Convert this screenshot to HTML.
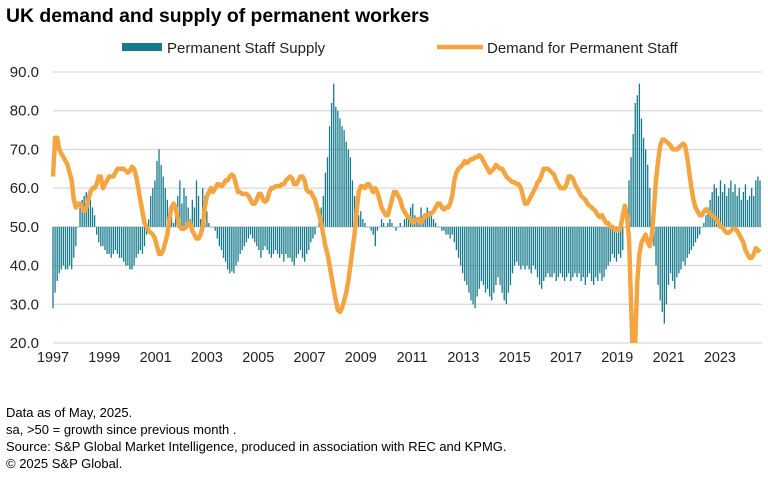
<!DOCTYPE html>
<html><head><meta charset="utf-8">
<style>
body{margin:0;background:#fff;width:768px;height:480px;overflow:hidden;font-family:"Liberation Sans",Arial,sans-serif;}
svg{position:absolute;left:0;top:0;}
</style></head>
<body>
<svg id="chart" width="768" height="480" xmlns="http://www.w3.org/2000/svg">
<text x="6" y="22" font-size="19.4" font-weight="bold" fill="#000">UK demand and supply of permanent workers</text>
<g>
<rect x="122" y="43" width="40" height="8" fill="#157a8c"/>
<text x="167" y="53" font-size="15" fill="#222">Permanent Staff Supply</text>
<line x1="437" y1="47" x2="483" y2="47" stroke="#f2a541" stroke-width="4.5"/>
<text x="487" y="53" font-size="15" fill="#222">Demand for Permanent Staff</text>
</g>
<g id="grid"></g><g id="bars"></g><g id="line"></g><g id="axes"></g>
<g font-size="13" fill="#000">
<text x="6" y="417">Data as of May, 2025.</text>
<text x="6" y="434">sa, &gt;50 = growth since previous month .</text>
<text x="6" y="451">Source: S&amp;P Global Market Intelligence, produced in association with REC and KPMG.</text>
<text x="6" y="468">© 2025 S&amp;P Global.</text>
</g>
</svg>
<script>
const yTicks=[20,30,40,50,60,70,80,90];
const xLabels=["1997","1999","2001","2003","2005","2007","2009","2011","2013","2015","2017","2019","2021","2023"];
const demand=[
63,73,73,70,69,68,67,66,64,62,57,55,
56,56,55,54,55,57,59,60,60,61,63,63,
60,61,62,63,63,63,64,65,65,65,65,64.5,
64,64.5,65.5,65,63,60,57,54,51,50,49,48.5,
48,47,45,43,43,44,46,48,52,55,56,55,
52,50,49.5,49.5,50,51,51,49,48,47,47,48,
50,55,58,59,60,59,60,61,61,60.5,61,62,
62,63,63.5,63,61,59,59,58.5,58.5,58.5,58,57,
56,56,57,58.5,58.5,57,56.5,57,59,60,60,60.5,
60.5,60.5,61,61,62,62.5,63,62.5,61,61,62,63,
63,62,59.5,59,59,58,57,55,53,51,48,45,
43,40,37,34,31,28.5,28,29,31,33,36,40,
44,48,54,59,60.5,60.5,60,61,61,60,59,60,
59,57,55,54,53,53,55,57,59,59,58,57,
55,54,53,52.5,52,51,51.5,52,52,51,52,53,
53,53,53.5,54,55,56,56,55,54.5,55,55,56,
58,62,64,65,65.5,66,67,66.5,67,67.5,67.5,68,
68,68.5,68,67,66,65,64,64.5,65,66,65.5,65,
65,64,63,62.5,62,61.5,61.5,61,61,60,58,56,
56,57,58,59,60,61.5,62,63.5,65,65,65,64.5,
64,63.5,62,61,60,60,60,61,63,63,62.5,61,
60,59,58,57.5,57,56,55.5,55,54.5,54,53,52.5,
53,52,51,51,50,50,49.5,49,49,50,53,55.5,
53,47,30,14,20,36,43,46,47,48,46,45,
48,55,62,67,71,72.5,72.5,72,71.5,71,70,70,
70,70.5,71,71.5,71,68,64,60,57,55,54,53,
53,54,54.5,54,53.5,53,52.5,52,51,50,50,49,
48.5,48.5,49,49.5,49.5,49,48,47,46,44,43,42,
42,43,44.5,44,43.5];
const supply=[
29,33,36,38,39,40,39,39,40,39,42,45,
50,56,57,58,59,57,57,55,53,48,46,45,
45,44,43,43,42,43,44,43,42,42,41,40,
40,39,39,40,42,43,44,43,45,48,52,58,
60,62,67,70,66,63,60,57,55,53,51,55,
58,62,56,60,58,55,52,57,55,62,58,52,
60,58,54,51,50,50,49,47,45,44,42,41,
39,38,38.5,38,40,41,43,44,45,46,47,48,
47,46,45,44,42,44,45,44,43,42,43,44,
43,42,43,41,43,42,42,41,40,42,43,44,
42,41,43,44,46,47,48,50,52,55,58,64,
68,76,82,87,81,80,78,76,75,72,70,68,
62,58,55,53,54,52,51,50,50,49,48,45,
49,50,52,51,50,51,52,51,50,49,50,51,
50,52,54,53,55,56,53,52,51,55,53,52,
55,54,53,52,51,50,50,49,49,48,48,47,
48,46,44,42,40,38,36,35,33,31,30,29,
32,34,36,35,33,34,32,31,33,35,37,35,
33,31,30,33,35,38,40,41,40,39,40,39,
40,39,38,40,39,37,35,34,36,37,38,37,
37,38,36,37,38,37,36,37,38,36,37,38,
37,38,36,37,35,37,38,36,35,37,36,38,
36,37,39,40,41,43,42,41,43,42,44,50,
55,62,68,74,82,84,87,78,73,70,66,60,
53,45,40,35,31,28,25,30,35,38,36,34,
37,38,39,41,40,42,43,44,45,46,47,48,
50,51,53,55,57,59,61,60,58,62,59,61,
58,60,62,59,61,58,60,57,59,61,57,58,
60,58,62,63,62];
const NS='http://www.w3.org/2000/svg';
const X0=53,X1=760,YT=72,YB=343;
const y=v=>YT+(90-v)*(YB-YT)/70;
const x=i=>X0+i*(X1-X0)/(demand.length-1);
const labelX=i=>53+i*51.3;
function mk(tag,attrs,parent){const e=document.createElementNS(NS,tag);for(const k in attrs)e.setAttribute(k,attrs[k]);parent.appendChild(e);return e;}
const grid=document.getElementById('grid'),axes=document.getElementById('axes');
yTicks.forEach(t=>{
 const l=mk('line',{x1:X0,x2:X1+2,y1:y(t),y2:y(t),stroke:'#d9d9d9','stroke-width':1.3},grid);
 
 
 const tx=mk('text',{x:39,y:y(t)+5,'font-size':15,'text-anchor':'end',fill:'#222'},axes);
 tx.textContent=t.toFixed(1);
 
 
});
xLabels.forEach((s,i)=>{
 const tx=mk('text',{x:labelX(i),y:362,'font-size':14.4,'text-anchor':'middle',fill:'#222'},axes);
 tx.textContent=s;
 
 
});
const bars=document.getElementById('bars');
supply.forEach((v,i)=>{
 const a=y(v),b=y(50);
 const r=mk('rect',{x:x(i)-0.65,y:Math.min(a,b),width:1.3,height:Math.max(Math.abs(a-b),0.5),fill:'#157a8c'},bars);
 
 
});
const cp=mk('clipPath',{id:'clip'},document.getElementById('chart'));
mk('rect',{x:0,y:YT-10,width:768,height:YB-YT+10},cp);
const p=mk('polyline',{points:demand.map((v,i)=>x(i).toFixed(1)+','+y(v).toFixed(1)).join(' '),fill:'none',stroke:'#f2a541','stroke-width':4.5,'stroke-linejoin':'round','clip-path':'url(#clip)'},document.getElementById('line'));


</script>
</body></html>
